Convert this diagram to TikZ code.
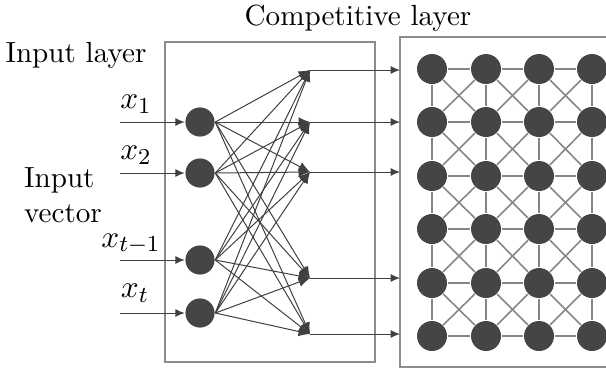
\documentclass[tikz,border=0pt]{standalone}
\usetikzlibrary{arrows.meta, positioning}
\definecolor{cnode}{HTML}{454545}
\definecolor{cedge}{HTML}{858585}
\definecolor{cframe}{HTML}{8C8C8C}
\definecolor{cwire}{HTML}{404040}
\tikzset{
  every picture/.style={line width=0.5pt},
  neuron/.style={circle, fill=cnode, minimum size=10.5pt, inner sep=0pt},
  link/.style={draw=cedge, line width=0.55pt},
  wire/.style={-{Latex[length=3.3pt,width=2.8pt]}, draw=cwire, line width=0.35pt},
  fanin/.style={wire, -{Latex[length=4pt,width=3.4pt]}},
  frame/.style={draw=cframe, line width=0.6pt},
  lbl/.style={inner sep=0pt, font=\fontsize{10.2}{12.2}\selectfont},
  var/.style={inner sep=0pt, font=\fontsize{11.2}{13}\selectfont},
}

\begin{document}
\begin{tikzpicture}[x=0.35pt, y=-0.35pt]
  \useasboundingbox (0,0) rectangle (606,372);
  \clip (0,0) rectangle (606,372);
  % the two layer frames
  \draw[frame] (165,42) rectangle (375,362);
  \draw[frame] (400,37) rectangle (640,367);
  % competitive layer: 4 x 6 lattice
  \foreach \c/\x in {0/432,1/486,2/539,3/592}
    \foreach \r/\y in {0/69,1/122,2/176,3/229,4/283,5/336}
      \node[neuron] (g\c\r) at (\x,\y) {};
  \foreach \c/\d in {0/1,1/2,2/3} \foreach \r in {0,...,5} \draw[link] (g\c\r) -- (g\d\r);
  \foreach \c in {0,...,3} \foreach \r/\s in {0/1,1/2,2/3,3/4,4/5} \draw[link] (g\c\r) -- (g\c\s);
  \foreach \c/\d in {0/1,1/2,2/3} \foreach \r/\s in {0/1,1/2,2/3,3/4,4/5} {
    \draw[link] (g\c\r) -- (g\d\s);
    \draw[link] (g\d\r) -- (g\c\s);
  }
  % input layer
  \foreach \i/\y in {1/122,2/173,3/260,4/313} {
    \node[neuron, minimum size=10.2pt] (in\i) at (200,\y) {};
    \coordinate (a\i) at (120,\y);
    \draw[wire] (a\i) -- (in\i);
  }
  % fan-in points and arrows into the competitive layer
  \foreach \j/\y in {1/70,2/122,3/172,4/278,5/334} {
    \coordinate (t\j) at (310,\y);
    \coordinate (e\j) at (400,\y);
    \draw[wire] (t\j) -- (e\j);
  }
  \foreach \i in {1,...,4} \foreach \j in {1,...,5} \draw[fanin] (in\i.east) -- (t\j);
  % labels
  \node[var] (x1) at (136,104) {$x_1$};
  \node[var] (x2) at (136,155) {$x_2$};
  \node[var] (x3) at (131,244) {$x_{t-1}$};
  \node[var] (x4) at (135,293) {$x_t$};
  \node[lbl] (comp) at (358,18) {Competitive layer};
  \node[lbl] (inlay) at (76,55) {Input layer};
  \node[lbl, align=left] (invec) at (63,195) {Input\\vector};
\end{tikzpicture}
\end{document}
